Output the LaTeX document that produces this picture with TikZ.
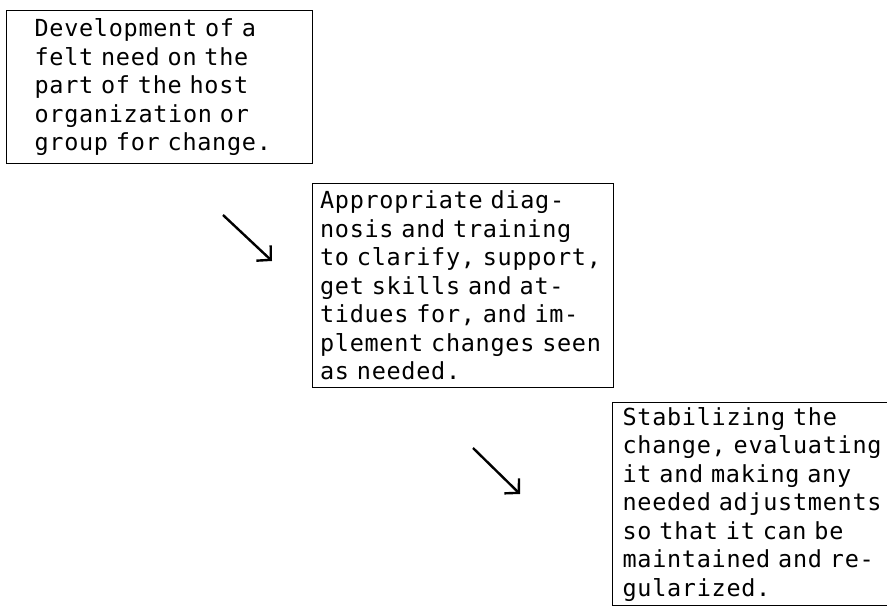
\documentclass[tikz,border=0pt]{standalone}
\usepackage{fontspec}
\usetikzlibrary{arrows.meta}
\newfontfamily\typewriter[LetterSpace=3, WordSpace=1.05]{DejaVu Sans Mono}
\newcommand*{\LineGap}{28.5pt}

\begin{document}
\begin{tikzpicture}[x=1pt, y=-1pt,
    stage/.style={draw, line width=1.2pt, anchor=north west, align=left,
        font=\typewriter\fontsize{23.5pt}{\LineGap}\selectfont},
    flow/.style={line width=2.4pt, -{Straight Barb[length=10pt, width=21pt]}}]
    \useasboundingbox (0,0) rectangle (887,609);
    \clip (0,0) rectangle (887,609);
    % the three stages
    \node[stage, text width=250pt, inner xsep=28pt, minimum height=153pt] (need) at (6,10)
        {Development of a\\felt need on the\\part of the host\\organization or\\group for change.};
    \node[stage, text width=286pt, inner xsep=7.5pt, minimum height=204pt] (diag) at (312,183)
        {Appropriate diag-\\nosis and training\\to clarify, support,\\get skills and at-\\tidues for, and im-\\plement changes seen\\as needed.};
    \node[stage, text width=280pt, inner xsep=10pt, minimum height=203pt] (stab) at (612,402)
        {Stabilizing the\\change, evaluating\\it and making any\\needed adjustments\\so that it can be\\maintained and re-\\gularized.};
    % arrows between them
    \coordinate (needout) at (223,215);
    \coordinate (diagin) at (272,261);
    \coordinate (diagout) at (473,448);
    \coordinate (stabin) at (520,494);
    \draw[flow] (needout) -- (diagin);
    \draw[flow] (diagout) -- (stabin);
\end{tikzpicture}
\end{document}
